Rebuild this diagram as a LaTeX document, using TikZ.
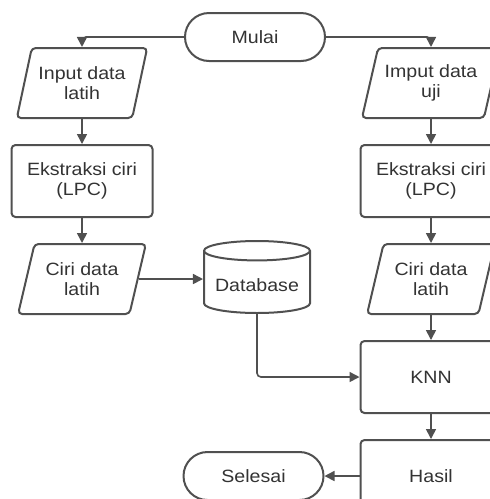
\documentclass[tikz,border=0pt]{standalone}
\usepackage{fontspec}
\setmainfont{Liberation Sans}[FakeStretch=1.1]
\usepackage{xcolor}
\usetikzlibrary{arrows.meta,positioning,shapes.geometric}
\definecolor{Ink}{HTML}{333333}
\definecolor{Edge}{HTML}{505050}
\tikzset{
  base/.style={draw=Edge,fill=white,line width=1pt,align=center,text=Ink,font=\fontsize{8.9}{9.8}\selectfont},
  term/.style={base,rounded corners=12pt,minimum width=70pt,minimum height=24pt},
  proc/.style={base,rounded corners=2pt,minimum width=70.5pt,minimum height=36pt},
  io/.style={base,trapezium,trapezium left angle=72,trapezium right angle=108,trapezium stretches=true,rounded corners=2pt,minimum width=64pt,minimum height=35pt},
  store/.style={base,cylinder,shape border rotate=90,aspect=0.2,minimum width=53pt,minimum height=36pt},
  arr/.style={-{Triangle[length=5pt,width=5pt]},draw=Edge,line width=0.8pt,rounded corners=2pt}
}
\begin{document}
\begin{tikzpicture}[x=0.5pt,y=-0.5pt,node distance=12.5pt]
  \useasboundingbox (0,0) rectangle (489,499);
  % left column: training data
  \node[term] (mulai) at (255,37) {Mulai};
  \node[io] (inL) at (82,83) {Input data\\latih};
  \node[proc,below=of inL] (ekL) {Ekstraksi ciri\\(LPC)};
  \node[io,below=of ekL] (ciL) {Ciri data\\latih};
  \node[store,anchor=shape center] (db) at (257,277) {Database};
  % right column: test data
  \node[io] (inR) at (431,83) {Imput data\\uji};
  \node[proc,below=of inR] (ekR) {Ekstraksi ciri\\(LPC)};
  \node[io,below=of ekR] (ciR) {Ciri data\\latih};
  \node[proc,below=of ciR] (knn) {KNN};
  \node[proc,below=of knn] (hasil) {Hasil};
  \node[term,left=17.5pt of hasil] (selesai) {Selesai};
  \draw[arr] (mulai.west) -| (inL);
  \draw[arr] (mulai.east) -| (inR);
  \draw[arr] (inL) -- (ekL);
  \draw[arr] (ekL) -- (ciL);
  \draw[arr] (ciL.east) -- (ciL.east -| db.west);
  \draw[arr] (inR) -- (ekR);
  \draw[arr] (ekR) -- (ciR);
  \draw[arr] (ciR) -- (knn);
  \draw[arr] (db.south) |- (knn);
  \draw[arr] (knn) -- (hasil);
  \draw[arr] (hasil) -- (selesai);
\end{tikzpicture}
\end{document}
